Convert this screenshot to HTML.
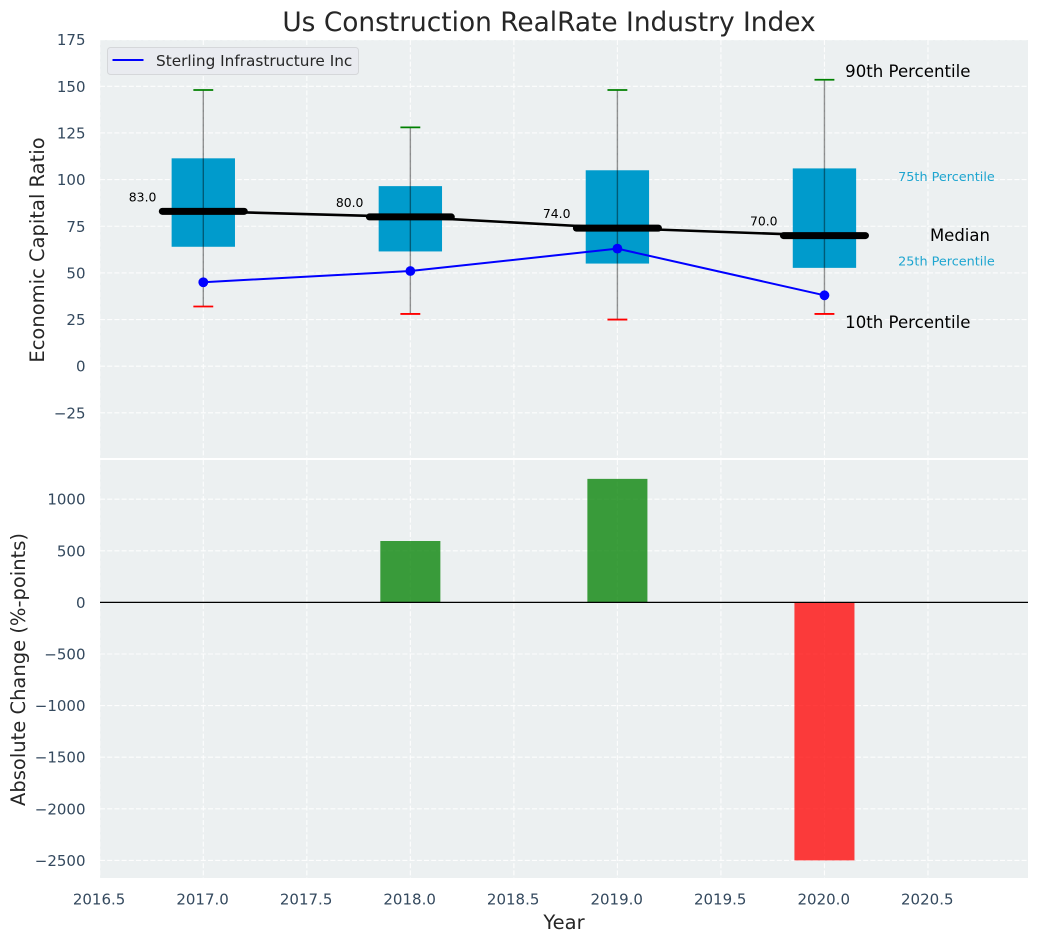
<!DOCTYPE html>
<html>
<head>
<meta charset="utf-8">
<title>Us Construction RealRate Industry Index</title>
<style>
html,body{margin:0;padding:0;background:#fff;}
#chart{display:block;font-family:"DejaVu Sans","Liberation Sans",sans-serif;}
</style>
</head>
<body>
<svg id="chart" xmlns="http://www.w3.org/2000/svg" width="1039" height="942" viewBox="0 0 1039 942"></svg>
<script>
const years = [2017, 2018, 2019, 2020];
const p10 = [32, 28, 25, 28];
const p25 = [64, 61.5, 55, 52.7];
const medians = [83, 80, 74, 70];
const p75 = [111.4, 96.5, 105, 106];
const p90 = [148, 128, 148, 153.5];
const company = [45, 51, 63, 38];
const changes = [0, 595, 1197, -2500];
const xTicks = [2016.5, 2017, 2017.5, 2018, 2018.5, 2019, 2019.5, 2020, 2020.5];
const yTopTicks = [-25, 0, 25, 50, 75, 100, 125, 150, 175];
const yBottomTicks = [-2500, -2000, -1500, -1000, -500, 0, 500, 1000];
const seriesName = 'Sterling Infrastructure Inc';

const NS = 'http://www.w3.org/2000/svg';
const svg = document.getElementById('chart');
const L = 100, R = 1028, T1 = 40, B1 = 458, T2 = 460, B2 = 878;
function X(v) { return 203.3 + (v - 2017) * 207.05; }
function Y1(v) { return 366.2 - v * 1.866; }
function Y2(v) { return 602.4 - v * 0.1032; }
function make(tag, attrs, parent) {
  const el = document.createElementNS(NS, tag);
  for (const k in attrs) el.setAttribute(k, attrs[k]);
  (parent || svg).appendChild(el);
  return el;
}
function label(str, x, y, size, fill, anchor, parent) {
  const t = make('text', { x: x, y: y, 'font-size': size, fill: fill, 'text-anchor': anchor || 'start' }, parent);
  t.textContent = str;
  return t;
}
function fmtInt(v) { return (v < 0 ? '\u2212' : '') + Math.abs(v); }
const tickColor = '#34495e';

const bgTop = make('rect', { x: L, y: T1, width: R - L, height: B1 - T1, fill: '#ecf0f1' });


const bgBottom = make('rect', { x: L, y: T2, width: R - L, height: B2 - T2, fill: '#ecf0f1' });



const grid = make('g', { stroke: '#ffffff', 'stroke-width': 1.1, 'stroke-dasharray': '5 2.2', fill: 'none', opacity: 0.9 });


xTicks.forEach(function (v) {
  const a = make('line', { x1: X(v), x2: X(v), y1: T1, y2: B1 }, grid);
  
  
  const b = make('line', { x1: X(v), x2: X(v), y1: T2, y2: B2 }, grid);
  
  
});
yTopTicks.forEach(function (v) {
  const a = make('line', { x1: L, x2: R, y1: Y1(v), y2: Y1(v) }, grid);
  
  
});
yBottomTicks.forEach(function (v) {
  const a = make('line', { x1: L, x2: R, y1: Y2(v), y2: Y2(v) }, grid);
  
  
});

/* boxes */
years.forEach(function (yr, i) {
  const hw = 0.153;
  const box = make('rect', { x: X(yr - hw), y: Y1(p75[i]), width: X(yr + hw) - X(yr - hw), height: Y1(p25[i]) - Y1(p75[i]), fill: '#009bcc' });
  
  
});
/* whiskers and caps */
years.forEach(function (yr, i) {
  const w = make('line', { x1: X(yr), x2: X(yr), y1: Y1(p90[i]), y2: Y1(p10[i]), stroke: '#000', 'stroke-opacity': 0.42, 'stroke-width': 1.4 });
  
  
  const hi = make('line', { x1: X(yr - 0.048), x2: X(yr + 0.048), y1: Y1(p90[i]), y2: Y1(p90[i]), stroke: '#008000', 'stroke-width': 1.8 });
  
  
  const lo = make('line', { x1: X(yr - 0.048), x2: X(yr + 0.048), y1: Y1(p10[i]), y2: Y1(p10[i]), stroke: '#ff0000', 'stroke-width': 1.8 });
  
  
});
/* median connecting line */
const medianLine = make('polyline', { points: years.map(function (yr, i) { return X(yr) + ',' + Y1(medians[i]); }).join(' '), fill: 'none', stroke: '#000', 'stroke-width': 2.6 });


/* median bars and labels */
years.forEach(function (yr, i) {
  const m = make('line', { x1: X(yr - 0.198), x2: X(yr + 0.198), y1: Y1(medians[i]), y2: Y1(medians[i]), stroke: '#000', 'stroke-width': 7, 'stroke-linecap': 'round' });
  
  
  const t = label(medians[i].toFixed(1), X(yr) - 74.5, Y1(medians[i]) - 10, 12.4, '#000');
  
  
});
/* company series */
const compLine = make('polyline', { points: years.map(function (yr, i) { return X(yr) + ',' + Y1(company[i]); }).join(' '), fill: 'none', stroke: '#0000ff', 'stroke-width': 2 });


years.forEach(function (yr, i) {
  const c = make('circle', { cx: X(yr), cy: Y1(company[i]), r: 4.9, fill: '#0000ff' });
  
  
});
/* percentile annotations, anchored to last year's values */
const last = years.length - 1;
const ann = [
  ['90th Percentile', X(years[last]) + 20.7, Y1(p90[last]) - 3, 16.6, '#000', 'annotation-90th'],
  ['75th Percentile', X(years[last]) + 73.7, Y1(p75[last]) + 12.5, 12.8, '#1ea5d0', 'annotation-75th'],
  ['Median', X(years[last]) + 105.5, Y1(medians[last]) + 5.5, 16.5, '#000', 'annotation-median'],
  ['25th Percentile', X(years[last]) + 73.7, Y1(p25[last]) - 2.3, 12.8, '#1ea5d0', 'annotation-25th'],
  ['10th Percentile', X(years[last]) + 20.7, Y1(p10[last]) + 14, 16.6, '#000', 'annotation-10th']
];
ann.forEach(function (a) {
  const t = label(a[0], a[1], a[2], a[3], a[4]);
  
  
});
/* legend */
const legend = make('g', {});


make('rect', { x: 107.5, y: 47.5, width: 251, height: 27, rx: 3, fill: '#e9ebf0', stroke: '#d5d7da', 'stroke-width': 1 }, legend);
make('line', { x1: 112.5, x2: 143.5, y1: 60, y2: 60, stroke: '#0000ff', 'stroke-width': 2 }, legend);
const legendText = label(seriesName, 156, 66, 15.3, '#262626', 'start', legend);



/* change bars */
years.forEach(function (yr, i) {
  const v = changes[i];
  if (v === 0) return;
  const y0 = Math.min(Y2(0), Y2(v));
  const h = Math.abs(Y2(v) - Y2(0));
  const b = make('rect', { x: X(yr - 0.145), y: y0, width: X(yr + 0.145) - X(yr - 0.145), height: h, fill: v > 0 ? '#008000' : '#ff0000', 'fill-opacity': 0.76 });
  
  
});
const zero = make('line', { x1: L, x2: R, y1: Y2(0), y2: Y2(0), stroke: '#000', 'stroke-width': 1.2 });



/* tick labels */
yTopTicks.forEach(function (v) {
  const t = label(fmtInt(v), 85.5, Y1(v) + 5.5, 15, tickColor, 'end');
  
  
});
yBottomTicks.forEach(function (v) {
  const t = label(fmtInt(v), 85.5, Y2(v) + 5.5, 15, tickColor, 'end');
  
  
});
xTicks.forEach(function (v) {
  const t = label(v.toFixed(1), X(v) - 0.7, 904.5, 15, tickColor, 'middle');
  
  
});
/* titles */
const title = label('Us Construction RealRate Industry Index', 549, 31, 26.4, '#262626', 'middle');


const xTitle = label('Year', 564, 929, 19.5, '#262626', 'middle');


const yTitleTop = label('Economic Capital Ratio', 0, 0, 19.5, '#262626', 'middle');
yTitleTop.setAttribute('transform', 'translate(44,250) rotate(-90)');


const yTitleBottom = label('Absolute Change (%-points)', 0, 0, 19.5, '#262626', 'middle');
yTitleBottom.setAttribute('transform', 'translate(25,669.5) rotate(-90)');


</script>
</body>
</html>
